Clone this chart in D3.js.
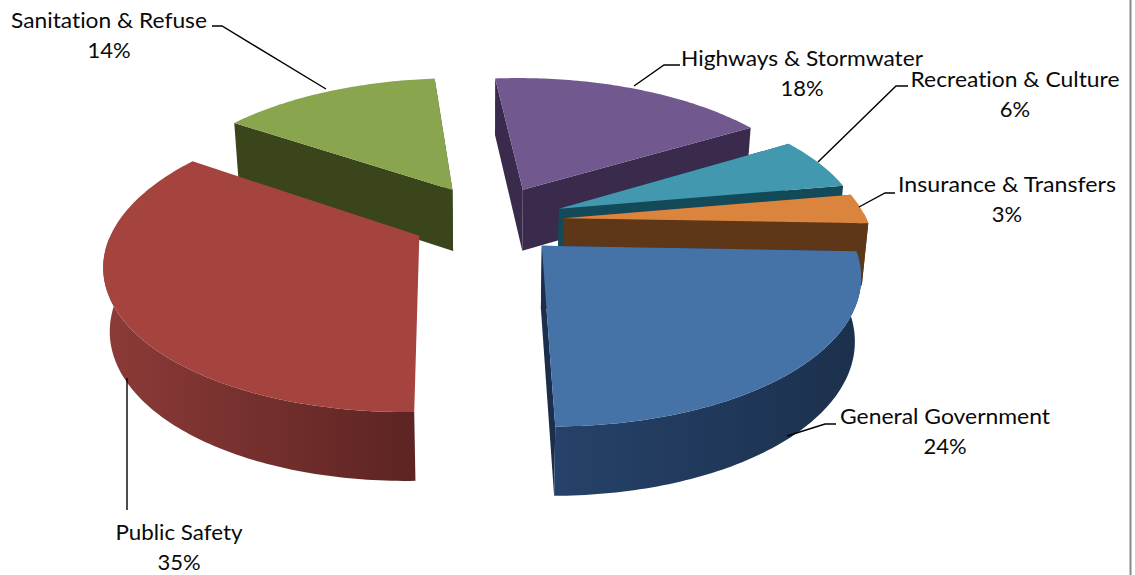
<!DOCTYPE html>
<html>
<head>
<meta charset="utf-8">
<script src="https://cdnjs.cloudflare.com/ajax/libs/d3/7.8.5/d3.min.js"></script>
<style>
html,body{margin:0;padding:0;background:#fff;overflow:hidden}
text{font-family:Lato,"Open Sans",sans-serif;fill:#0a0a0a;font-variant-ligatures:none}
</style>
</head>
<body>
<svg id="chart" width="1135" height="575"></svg>
<script>
// Budget shares, clockwise from the first slice
const categories = ["Highways & Stormwater","Recreation & Culture","Insurance & Transfers","General Government","Public Safety","Sanitation & Refuse"];
const shares = [18,6,3,24,35,14];

// Surface, cut-face and rim-gradient colours per slice
const topColors = ["#71588f","#4198af","#db843d","#4572a7","#a5433f","#89a54e"];
const faceColors = ["#3a2a4c","#124a5a","#5e3618","#1b2f4c","#5f2523","#3a451c"];
const rimLight = ["#3a2a4c","#1a5668","#5e3618","#26426a","#8c3b38","#3a451c"];
const rimDark = ["#3a2a4c","#124a5a","#5e3618","#1b304c","#5c2422","#3a451c"];

// Label placement and leader lines, in category order
const labelX = [802,1015,1007,945,179,109];
const labelY = [66,87,192,424,540,28];
const labelW = [242,209,218,210,127,196];
const leaders = [
  [[680,65],[664,65],[634,86]],
  [[908,86],[896,86],[818,162]],
  [[895,193],[885,193],[859,207]],
  [[836,424],[825,424],[787,436]],
  [[127,510],[127,378]],
  [[212,26],[222,26],[326,89]]
];

// Projection of the tilted pie plane
const startAngle = -3.9 * Math.PI / 180;
const explode = 0.25, perspective = 0.17, thickness = 62, taper = 0.017;
const xScale = d3.scaleLinear().domain([-1,1]).range([488-303,488+303]);
const yScale = d3.scaleLinear().domain([-1,1]).range([219.5-140,219.5+140]);
// Angular correction for the lens of the 3D view, in degrees
const lens = d3.scaleLinear().domain([-5,60,83,95,180,303,355]).range([-1.3,-2,-2.5,-1,0,-1.5,-1.3]).clamp(true);
// Public Safety's cut starts a touch earlier and its cut faces stay out of sight
const startTrim = [0,0,0,0,-1.1,0];
const showCutFaces = [true,true,true,true,false,true];

const project = (X,Z,down) => {
  const w = 1/(1-perspective*Z);
  const x = xScale(X*w), y = yScale(Z*w);
  if(!down) return [x,y];
  // The lower face of the disc sits slightly further from the viewer
  return [x+(xScale(0)-x)*taper, y+thickness*Math.sqrt(w)];
};

const svg = d3.select("#chart");
const defs = svg.append("defs");
const line = d3.line();

const arcs = d3.pie().sort(null).startAngle(startAngle).endAngle(startAngle+2*Math.PI)(shares);
const slices = arcs.map((a,i)=>{
  const mid = (a.startAngle+a.endAngle)/2;
  const ox = explode*Math.sin(mid), oz = -explode*Math.cos(mid);
  const warp = t => {
    let deg = t*180/Math.PI;
    if(deg>355) deg -= 360;
    return t + lens(deg)*Math.PI/180;
  };
  const at = (t,r,down)=>{
    const u = warp(t);
    return project(ox+r*Math.sin(u), oz-r*Math.cos(u), down);
  };
  const a0 = a.startAngle + startTrim[i]*Math.PI/180;
  const n = Math.ceil((a.endAngle-a0)*60);
  const ts = d3.range(n+1).map(k=>a0+(a.endAngle-a0)*k/n);
  return {i,a,a0,at,ts};
});

// Painter's order: sanitation at the back, public safety last
const order = [5,0,1,2,3,4];
order.forEach(idx=>{
  const s = slices[idx], {i,a,a0,at,ts} = s;
  const g = svg.append("g").attr("class","slice");
  // Cut faces
  (showCutFaces[i] ? [a0,a.endAngle] : []).forEach(t=>{
    g.append("path")
      .attr("d",line([at(t,0,false),at(t,1,false),at(t,1,true),at(t,0,true)])+"Z")
      .attr("fill",faceColors[i]);
  });
  // Outer rim, only where it faces the viewer
  const front = ts.filter(t=>Math.cos(t)<0.02);
  if(front.length>1){
    const pts = front.map(t=>at(t,1,false)).concat(front.slice().reverse().map(t=>at(t,1,true)));
    const ext = d3.extent(pts,p=>p[0]);
    const id = "rim"+i;
    const grad = defs.append("linearGradient").attr("id",id)
      .attr("gradientUnits","userSpaceOnUse")
      .attr("x1",ext[0]).attr("x2",ext[1]).attr("y1",0).attr("y2",0);
    grad.append("stop").attr("offset",0).attr("stop-color",rimLight[i]);
    grad.append("stop").attr("offset",1).attr("stop-color",rimDark[i]);
    g.append("path").attr("d",line(pts)+"Z").attr("fill",`url(#${id})`);
  }
  // Top surface
  const top = [at(a0,0,false)].concat(ts.map(t=>at(t,1,false)));
  g.append("path").attr("d",line(top)+"Z").attr("fill",topColors[i]);
});

// Leader lines
svg.append("g").selectAll("path").data(leaders).join("path")
  .attr("d",d=>line(d)).attr("fill","none").attr("stroke","#000").attr("stroke-width",1.4);

// Two-line labels
const labels = svg.append("g").selectAll("g").data(categories).join("g");
labels.append("text").attr("x",(d,i)=>labelX[i]).attr("y",(d,i)=>labelY[i])
  .attr("text-anchor","middle").attr("font-size",22)
  .attr("textLength",(d,i)=>labelW[i]).attr("lengthAdjust","spacingAndGlyphs").text(d=>d);
labels.append("text").attr("x",(d,i)=>labelX[i]).attr("y",(d,i)=>labelY[i]+30)
  .attr("text-anchor","middle").attr("font-size",22).text((d,i)=>shares[i]+"%");

// Frame edge on the right
svg.append("line").attr("x1",1130.5).attr("x2",1130.5).attr("y1",0).attr("y2",575)
  .attr("stroke","#8a8a8a").attr("stroke-width",2);
</script>
</body>
</html>
